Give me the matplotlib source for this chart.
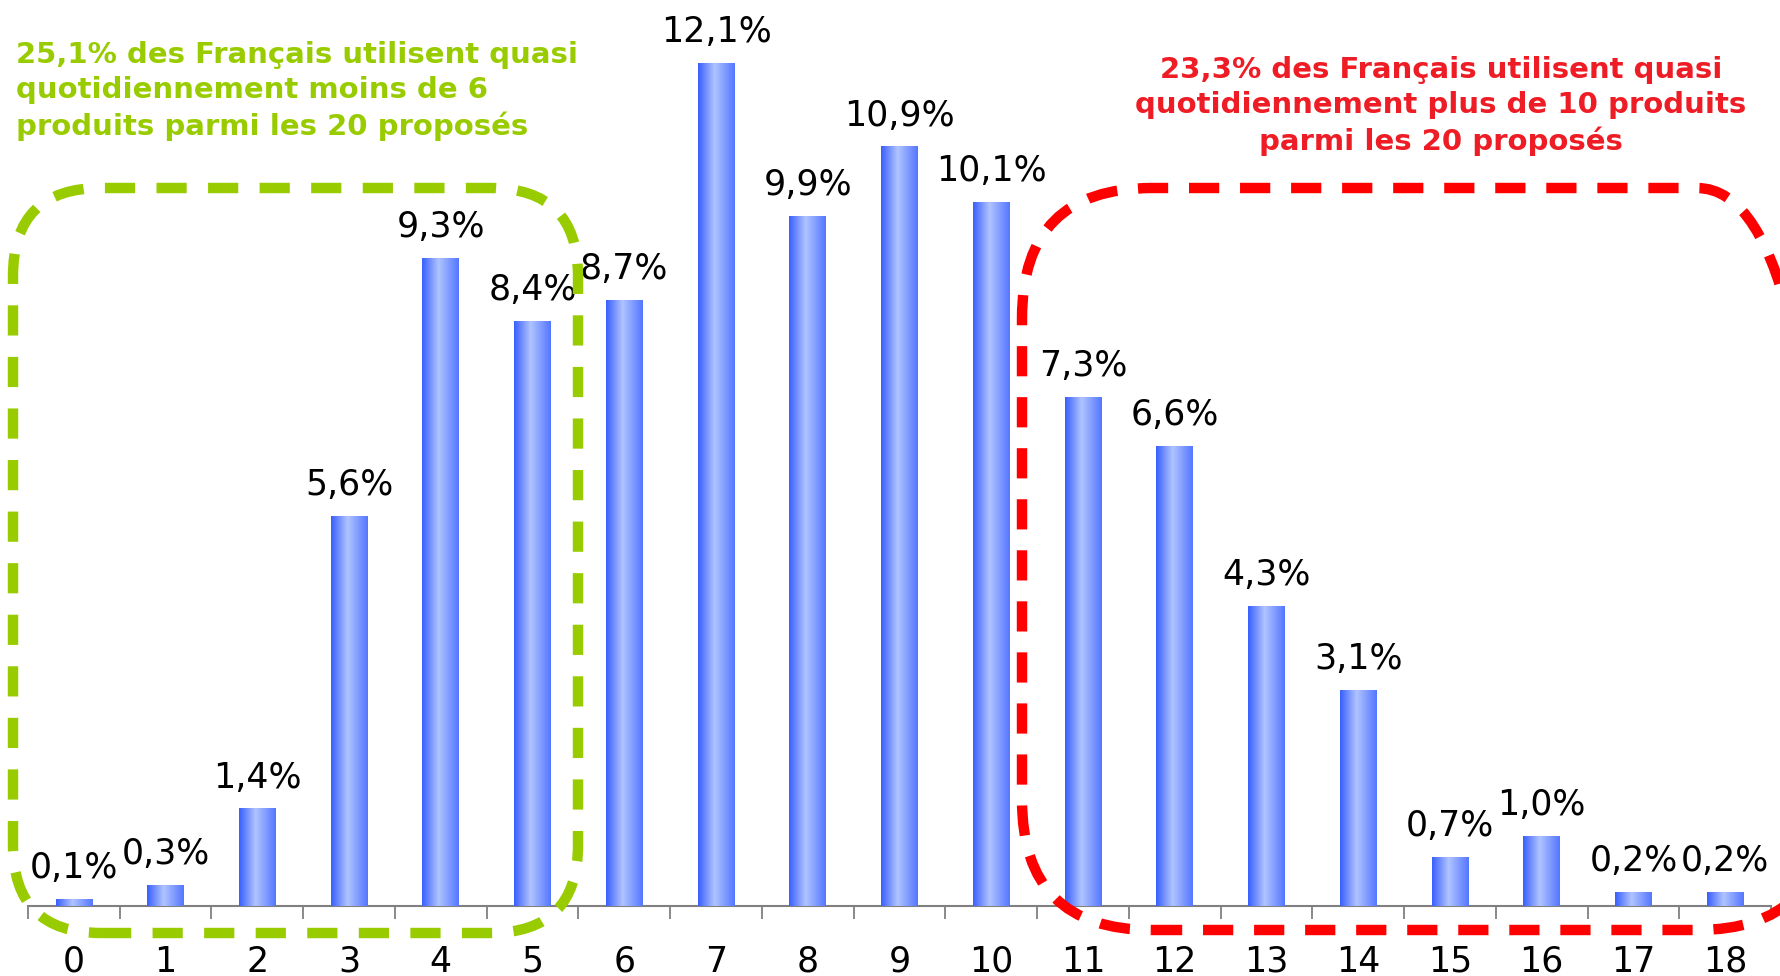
import numpy as np
import matplotlib
matplotlib.use('Agg')
import matplotlib.pyplot as plt
from matplotlib.colors import LinearSegmentedColormap
from matplotlib.patches import FancyBboxPatch

# données
nb_produits = [str(i) for i in range(19)]
pourcentages = [0.1, 0.3, 1.4, 5.6, 9.3, 8.4, 8.7, 12.1, 9.9, 10.9, 10.1,
                7.3, 6.6, 4.3, 3.1, 0.7, 1.0, 0.2, 0.2]
texte_vert = "25,1% des Français utilisent quasi\nquotidiennement moins de 6\nproduits parmi les 20 proposés"
texte_rouge = "23,3% des Français utilisent quasi\nquotidiennement plus de 10 produits\nparmi les 20 proposés"

plt.rcParams['font.family'] = ['DejaVu Sans']

W, H = 1780, 976
fig = plt.figure(figsize=(W / 100, H / 100), dpi=100)
ax = fig.add_axes([28 / W, 70 / H, 1743 / W, 906 / H])

x = np.arange(len(pourcentages))
bars = ax.bar(x, pourcentages, width=0.4, color='#6f8dff', zorder=2)

# dégradé horizontal dans chaque barre
cmap = LinearSegmentedColormap.from_list('barre', [(0, '#3a60ff'), (0.45, '#b0c4ff'), (1, '#5577ff')])
grad = np.linspace(0, 1, 64).reshape(1, -1)
for b in bars:
    im = ax.imshow(grad, cmap=cmap, aspect='auto', zorder=3,
                   extent=[b.get_x(), b.get_x() + b.get_width(), 0, b.get_height()])
    im.set_clip_path(b)

for xi, v in zip(x, pourcentages):
    ax.annotate(f"{v:.1f}%".replace('.', ','), (xi, v), xytext=(0, 15), textcoords='offset points',
                ha='center', va='baseline', fontsize=25, color='black', zorder=4)

ax.set_xlim(-0.5, len(pourcentages) - 0.5)
ax.set_ylim(0, 13)
ax.set_xticks(x)
ax.set_xticklabels(nb_produits, fontsize=25)
ax.set_xticks(np.arange(-0.5, len(pourcentages)), minor=True)
ax.tick_params(axis='x', which='major', length=0, pad=28)
ax.tick_params(axis='x', which='minor', length=9, width=1.3, color='#808080', direction='out')
ax.set_yticks([])
for s in ['top', 'right', 'left']:
    ax.spines[s].set_visible(False)
ax.spines['bottom'].set_color('#808080')
ax.spines['bottom'].set_linewidth(1.5)
ax.patch.set_alpha(0)

# calque pour les cadres en pointillés (en pixels)
ov = fig.add_axes([0, 0, 1, 1], zorder=5)
ov.set_xlim(0, W)
ov.set_ylim(0, H)
ov.axis('off')
ov.patch.set_alpha(0)

cadre_vert = FancyBboxPatch((13, 43), 565, 745, boxstyle="round,pad=0,rounding_size=88",
                            fill=False, edgecolor='#99cc00', linewidth=7.5,
                            linestyle=(0, (2.9, 2.05)))
cadre_rouge = FancyBboxPatch((1022, 46), 805, 742, boxstyle="round,pad=0,rounding_size=130",
                             fill=False, edgecolor='#ff0000', linewidth=7.5,
                             linestyle=(0, (2.9, 2.0)))
ov.add_patch(cadre_vert)
ov.add_patch(cadre_rouge)

fig.text(16 / W, 1 - 91 / H, texte_vert, color='#99cc00', fontsize=21, fontweight='bold',
         ha='left', va='center', linespacing=1.3)
fig.text(1441 / W, 1 - 106 / H, texte_rouge, color='#ee1c25', fontsize=21, fontweight='bold',
         ha='center', va='center', linespacing=1.3)

fig.savefig('out.png', dpi=100)
